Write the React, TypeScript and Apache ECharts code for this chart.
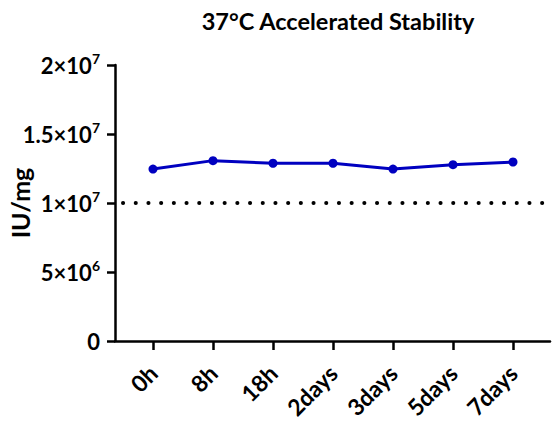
import React, { useEffect, useRef } from "react";
import * as echarts from "echarts";

const categories = ["0h", "8h", "18h", "2days", "3days", "5days", "7days"];
const values = [12460000, 13070000, 12880000, 12880000, 12460000, 12780000, 12970000];
const referenceLevel = 10000000;
const yTicks = [0, 5000000, 10000000, 15000000, 20000000];
const yTickMantissas = ["0", "5×10", "1×10", "1.5×10", "2×10"];
const yTickExponents = ["", "6", "7", "7", "7"];

const FONT = "Lato";

export default function App() {
  const ref = useRef<HTMLDivElement>(null);
  useEffect(() => {
    if (!ref.current) return;
    const chart = echarts.init(ref.current, null, { renderer: "svg" });
    const axisLine = { show: true, lineStyle: { color: "#000", width: 2.5 } };
    chart.setOption({
      animation: false,
      backgroundColor: "#fff",
      title: {
        text: "37°C Accelerated Stability",
        left: 333,
        textAlign: "center",
        top: 4,
        textStyle: { fontFamily: FONT, fontWeight: "bold", fontSize: 23.5, color: "#000" },
      },
      grid: [
        { left: 115, right: 2, top: 65, bottom: 81, containLabel: false, outerBoundsMode: "none" },
        { left: 123, width: 420, top: 65, bottom: 81, containLabel: false, outerBoundsMode: "none" },
      ],
      xAxis: [
        {
          type: "value",
          gridIndex: 0,
          min: 0,
          max: 1,
          axisLine,
          axisTick: { show: false },
          axisLabel: { show: false },
          splitLine: { show: false },
        },
        {
          type: "category",
          gridIndex: 1,
          data: categories,
          boundaryGap: true,
          axisLine: { show: false },
          axisTick: { show: true, alignWithLabel: true, length: 9, lineStyle: { color: "#000", width: 2.5 } },
          axisLabel: {
            rotate: 45,
            margin: 28,
            interval: 0,
            fontFamily: FONT,
            fontWeight: "bold",
            fontSize: 23,
            color: "#000",
          },
          splitLine: { show: false },
        },
      ],
      yAxis: [
        {
          type: "value",
          gridIndex: 0,
          min: 0,
          max: 20000000,
          interval: 5000000,
          axisLine,
          axisTick: { show: true, length: 8, lineStyle: { color: "#000", width: 2.5 } },
          splitLine: { show: false },
          name: "IU/mg",
          nameLocation: "middle",
          nameGap: 83,
          nameMoveOverlap: false,
          nameRotate: 90,
          nameTextStyle: { fontFamily: FONT, fontWeight: "bold", fontSize: 25, color: "#000" },
          axisLabel: {
            margin: 15,
            formatter: (v: number) => {
              const i = yTicks.indexOf(v);
              if (i < 0) return "";
              return yTickExponents[i]
                ? `{a|${yTickMantissas[i]}}{b|${yTickExponents[i]}}`
                : `{a|${yTickMantissas[i]}}`;
            },
            rich: {
              a: { fontFamily: FONT, fontWeight: "bold", fontSize: 22, lineHeight: 28, color: "#000" },
              b: { fontFamily: FONT, fontWeight: "bold", fontSize: 14, lineHeight: 15, verticalAlign: "top", color: "#000" },
            },
          },
        },
        {
          type: "value",
          gridIndex: 1,
          min: 0,
          max: 20000000,
          interval: 5000000,
          show: false,
          splitLine: { show: false },
        },
      ],
      series: [
        {
          type: "line",
          xAxisIndex: 1,
          yAxisIndex: 1,
          data: values,
          symbol: "circle",
          symbolSize: 9,
          itemStyle: { color: "#0000c0" },
          lineStyle: { color: "#0000c0", width: 3 },
          markLine: {
            silent: true,
            symbol: "none",
            label: { show: false },
            lineStyle: { color: "#000", width: 4, type: [0.1, 12.6], cap: "round" },
            data: [{ yAxis: referenceLevel }],
          },
        },
      ],
    });
    return () => chart.dispose();
  }, []);
  return (
    <div
      ref={ref}
      style={{ position: "absolute", left: 0, top: 0, width: 552, height: 422 }}
    />
  );
}
